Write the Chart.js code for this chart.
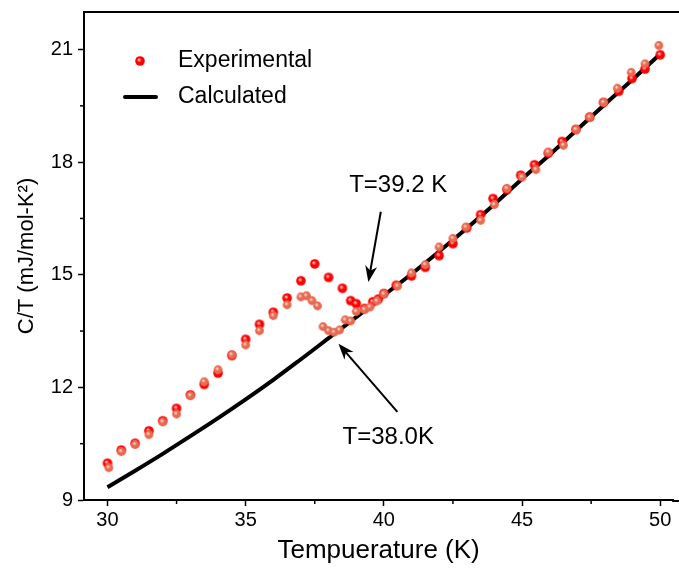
<!DOCTYPE html>
<html>
<head>
<meta charset="utf-8">
<script src="https://cdn.jsdelivr.net/npm/chart.js@4/dist/chart.umd.min.js"></script>
<style>
html,body{margin:0;padding:0;background:#fff;}
#wrap{width:679px;height:569px;}
</style>
</head>
<body>
<div id="wrap"><canvas id="c" width="679" height="569"></canvas></div>
<script>
// ---- Data ----
const expT = [30.0,30.5,31.0,31.5,32.0,32.5,33.0,33.5,34.0,34.5,35.0,35.5,36.0,36.5,37.0,37.5,38.0,38.5,38.8,39.0,39.3,39.6,39.8,40.0,40.45,41.0,41.5,42.0,42.5,43.0,43.5,43.95,44.45,44.95,45.45,45.95,46.45,46.95,47.45,47.95,48.5,48.98,49.45,50.0];
const expCT = [9.98,10.33,10.51,10.84,11.11,11.44,11.80,12.08,12.38,12.85,13.28,13.68,14.00,14.38,14.84,15.29,14.93,14.64,14.31,14.23,14.10,14.28,14.35,14.50,14.72,14.97,15.20,15.51,15.83,16.25,16.60,17.03,17.27,17.65,17.93,18.24,18.55,18.87,19.20,19.59,19.89,20.23,20.48,20.86];

const exp2T = [30.05,30.5,31.0,31.5,32.0,32.5,33.0,33.5,34.0,34.5,35.0,35.5,36.0,36.5,37.0,37.2,37.4,37.6,37.8,38.0,38.2,38.4,38.6,38.8,39.0,39.3,39.5,39.75,40.0,40.5,41.0,41.5,42.0,42.5,42.97,43.5,44.0,44.45,45.0,45.5,45.95,46.5,46.95,47.45,47.95,48.45,48.95,49.45,49.95];
const exp2CT = [9.86,10.29,10.48,10.74,11.08,11.29,11.78,12.15,12.47,12.87,13.13,13.51,13.91,14.20,14.41,14.44,14.31,14.17,13.62,13.51,13.47,13.53,13.80,13.77,14.02,14.07,14.14,14.30,14.49,14.70,15.05,15.27,15.74,15.97,16.27,16.45,16.87,17.30,17.60,17.80,18.27,18.45,18.87,19.20,19.59,19.97,20.39,20.62,21.11];

const calcT = [30,31,32,33,34,35,36,37,38,39,40,41,42,43,44,45,46,47,48,49,50];
const calcCT = [9.34,9.78,10.23,10.70,11.18,11.68,12.20,12.75,13.31,13.87,14.45,15.02,15.62,16.24,16.88,17.55,18.20,18.87,19.54,20.20,20.88];

const xTicks = [30,35,40,45,50];
const xMinorTicks = [32.5,37.5,42.5,47.5];
const yTicks = [9,12,15,18,21];
const yMinorTicks = [10.5,13.5,16.5,19.5];

const legendLabels = ['Experimental','Calculated'];
const annotations = [
  {text:'T=39.2 K', tx:40.52, ty:17.37, ax0:39.89, ay0:16.68, ax1:39.44, ay1:14.81},
  {text:'T=38.0K', tx:40.16, ty:10.68, ax0:40.49, ay0:11.35, ax1:38.36, ay1:13.16}
];

const FONT = "'Liberation Sans', Arial, sans-serif";

function ballImage(base, light, r) {
  const cv = document.createElement('canvas');
  const s = Math.ceil(r*2)+2;
  cv.width = s; cv.height = s;
  const g = cv.getContext('2d');
  const c = s/2;
  const grad = g.createRadialGradient(c-r*0.25, c-r*0.3, 0.3, c, c, r);
  grad.addColorStop(0, light);
  grad.addColorStop(0.45, base);
  grad.addColorStop(1, base);
  g.fillStyle = grad;
  g.beginPath(); g.arc(c, c, r, 0, Math.PI*2); g.fill();
  return cv;
}
const redBall = ballImage('#ff0000', '#ffd0d0', 4.8);
const salmonBall = ballImage('#e8694f', '#ffe0d6', 4.4);

const toXY = (xs, ys) => xs.map((x,i)=>({x:x, y:ys[i]}));

const framePlugin = {
  id:'frame',
  afterDraw(chart) {
    const ctx = chart.ctx;
    const xs = chart.scales.x, ys = chart.scales.y;
    const ca = chart.chartArea;
    ctx.save();
    // top frame line and bottom axis continuation to the canvas edge
    ctx.strokeStyle = '#000'; ctx.lineWidth = 2;
    ctx.beginPath(); ctx.moveTo(ca.left-1, ca.top); ctx.lineTo(chart.width, ca.top); ctx.stroke();
    ctx.beginPath(); ctx.moveTo(ca.right-1, ca.bottom+1); ctx.lineTo(chart.width, ca.bottom+1); ctx.stroke();
    // minor ticks
    ctx.lineWidth = 1.5;
    xMinorTicks.forEach(v=>{
      const px = xs.getPixelForValue(v);
      ctx.beginPath(); ctx.moveTo(px, ca.bottom); ctx.lineTo(px, ca.bottom+4); ctx.stroke();
    });
    yMinorTicks.forEach(v=>{
      const py = ys.getPixelForValue(v);
      ctx.beginPath(); ctx.moveTo(ca.left, py); ctx.lineTo(ca.left-4, py); ctx.stroke();
    });
    // legend
    ctx.font = '23px ' + FONT;
    ctx.fillStyle = '#000';
    ctx.textBaseline = 'middle';
    ctx.drawImage(redBall, 140 - redBall.width/2, 61 - redBall.height/2);
    ctx.fillText(legendLabels[0], 178, 61);
    ctx.lineWidth = 4; ctx.strokeStyle = '#000'; ctx.lineCap = 'round';
    ctx.beginPath(); ctx.moveTo(125, 97); ctx.lineTo(156, 97); ctx.stroke();
    ctx.fillText(legendLabels[1], 178, 97);
    // annotations
    ctx.font = '24px ' + FONT;
    ctx.textAlign = 'center';
    annotations.forEach(a=>{
      ctx.fillText(a.text, xs.getPixelForValue(a.tx), ys.getPixelForValue(a.ty));
      const x0 = xs.getPixelForValue(a.ax0), y0 = ys.getPixelForValue(a.ay0);
      const x1 = xs.getPixelForValue(a.ax1), y1 = ys.getPixelForValue(a.ay1);
      const ang = Math.atan2(y1-y0, x1-x0);
      ctx.lineWidth = 2; ctx.lineCap = 'butt';
      ctx.beginPath(); ctx.moveTo(x0,y0); ctx.lineTo(x1 - Math.cos(ang)*4, y1 - Math.sin(ang)*4); ctx.stroke();
      const L = 16, W = 6;
      ctx.beginPath();
      ctx.moveTo(x1, y1);
      ctx.lineTo(x1 - L*Math.cos(ang) + W*Math.sin(ang), y1 - L*Math.sin(ang) - W*Math.cos(ang));
      ctx.lineTo(x1 - L*0.7*Math.cos(ang), y1 - L*0.7*Math.sin(ang));
      ctx.lineTo(x1 - L*Math.cos(ang) - W*Math.sin(ang), y1 - L*Math.sin(ang) + W*Math.cos(ang));
      ctx.closePath(); ctx.fill();
    });
    ctx.restore();
  }
};

new Chart(document.getElementById('c'), {
  type:'scatter',
  data:{
    datasets:[
      {label:legendLabels[1], data:toXY(calcT, calcCT), showLine:true, borderColor:'#000', borderWidth:4, pointRadius:0, cubicInterpolationMode:'monotone', order:3, clip:false},
      {label:legendLabels[0], data:toXY(expT, expCT), pointStyle:redBall, pointRadius:4.8, order:2, clip:false},
      {label:'exp2', data:toXY(exp2T, exp2CT), pointStyle:salmonBall, pointRadius:4.4, order:1, clip:false}
    ]
  },
  options:{
    responsive:false,
    animation:false,
    layout:{padding:{top:12,right:0,left:0,bottom:0}},
    plugins:{legend:{display:false}, tooltip:{enabled:false}},
    scales:{
      x:{
        type:'linear', min:29.151, max:50.47,
        afterBuildTicks:(s)=>{ s.ticks = xTicks.map(v=>({value:v})); },
        afterFit:(s)=>{ s.height = 69; s.paddingRight = 0; s.paddingLeft = 0; },
        grid:{drawOnChartArea:false, drawTicks:true, tickLength:6, tickColor:'#000', tickWidth:1.5},
        border:{display:true, color:'#000', width:2},
        ticks:{color:'#000', font:{family:FONT, size:20}, padding:2, maxRotation:0},
        title:{display:true, text:'Tempuerature (K)', color:'#000', font:{family:FONT, size:26}, padding:{top:0,bottom:3}}
      },
      y:{
        type:'linear', min:9, max:22,
        afterBuildTicks:(s)=>{ s.ticks = yTicks.map(v=>({value:v})); },
        afterFit:(s)=>{ s.width = 84; s.paddingTop = 0; s.paddingBottom = 0; },
        grid:{drawOnChartArea:false, drawTicks:true, tickLength:6, tickColor:'#000', tickWidth:1.5},
        border:{display:true, color:'#000', width:2},
        ticks:{color:'#000', font:{family:FONT, size:20}, padding:5},
        title:{display:true, text:'C/T (mJ/mol-K²)', color:'#000', font:{family:FONT, size:22}, padding:{top:14,bottom:0}}
      }
    }
  },
  plugins:[framePlugin]
});
</script>
</body>
</html>
